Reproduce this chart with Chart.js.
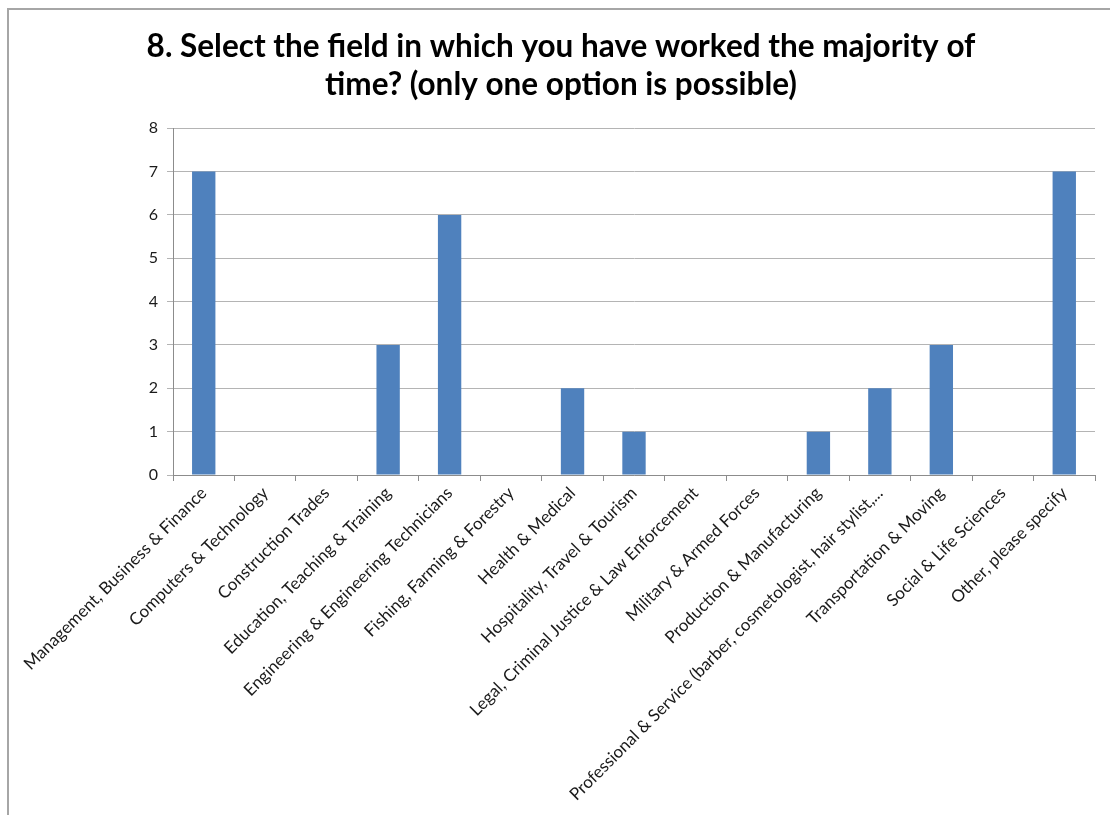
<!DOCTYPE html>
<html>
<head>
<meta charset="utf-8">
<script src="https://cdn.jsdelivr.net/npm/chart.js@4/dist/chart.umd.min.js"></script>
<style>
  body { margin: 0; background: #fff; overflow: hidden; }
  #frame {
    position: absolute; left: 7px; top: 8px; width: 1200px; height: 900px;
    border: 2px solid #a6a6a6; box-sizing: border-box;
  }
  #wrap { position: absolute; left: 0; top: 0; width: 1110px; height: 815px; }
</style>
</head>
<body>
<div id="frame"></div>
<div id="wrap"><canvas id="fieldChart"></canvas></div>
<script>
// answers to question 8 of the survey
const fields = [
    'Management, Business & Finance',
    'Computers & Technology',
    'Construction Trades',
    'Education, Teaching & Training',
    'Engineering & Engineering Technicians',
    'Fishing, Farming & Forestry',
    'Health & Medical',
    'Hospitality, Travel & Tourism',
    'Legal, Criminal Justice & Law Enforcement',
    'Military & Armed Forces',
    'Production & Manufacturing',
    'Professional & Service (barber, cosmetologist, hair stylist,...',
    'Transportation & Moving',
    'Social & Life Sciences',
    'Other, please specify'
];
const counts = [7, 0, 0, 3, 6, 0, 2, 1, 0, 0, 1, 2, 3, 0, 7];
const yTicks = [0, 1, 2, 3, 4, 5, 6, 7, 8];

const chartTitle = [
    '8. Select the field in which you have worked the majority of',
    'time? (only one option is possible)'
];

Chart.defaults.font.family = 'Lato, "Open Sans", sans-serif';
Chart.defaults.color = '#1a1a1a';

const ctx = document.getElementById('fieldChart').getContext('2d');
const fieldChart = new Chart(ctx, {
    type: 'bar',
    data: {
        labels: fields,
        datasets: [{
            data: counts,
            backgroundColor: '#4f81bd',
            borderWidth: 0,
            barPercentage: 0.38,
            categoryPercentage: 1
        }]
    },
    options: {
        responsive: true,
        maintainAspectRatio: false,
        animation: false,
        // extra left padding keeps the title centred a bit right of the canvas middle
        layout: { padding: { left: 27, right: 15, top: 0, bottom: 0 } },
        plugins: {
            legend: { display: false },
            tooltip: { enabled: false },
            title: {
                display: true,
                text: chartTitle,
                color: '#000',
                font: { size: 31.5, weight: 'bold', lineHeight: 1.21 },
                padding: { top: 28, bottom: 24 }
            }
        },
        scales: {
            x: {
                grid: {
                    display: true,
                    drawOnChartArea: false,
                    tickLength: 6,
                    color: '#8c8c8c'
                },
                border: { color: '#8c8c8c', width: 1 },
                ticks: {
                    minRotation: 45,
                    maxRotation: 45,
                    autoSkip: false,
                    padding: 2,
                    font: { size: 17 },
                    color: '#1a1a1a'
                },
                afterFit: (scale) => { scale.height = 340; }
            },
            y: {
                min: 0,
                max: 8,
                afterBuildTicks: (scale) => {
                    scale.ticks = yTicks.map(v => ({ value: v }));
                },
                grid: {
                    color: '#b4b4b4',
                    tickLength: 6
                },
                border: { color: '#8c8c8c', width: 1 },
                ticks: {
                    padding: 9,
                    font: { size: 16 },
                    color: '#1a1a1a'
                },
                afterFit: (scale) => { scale.width = 146; }
            }
        }
    }
});
</script>
</body>
</html>
